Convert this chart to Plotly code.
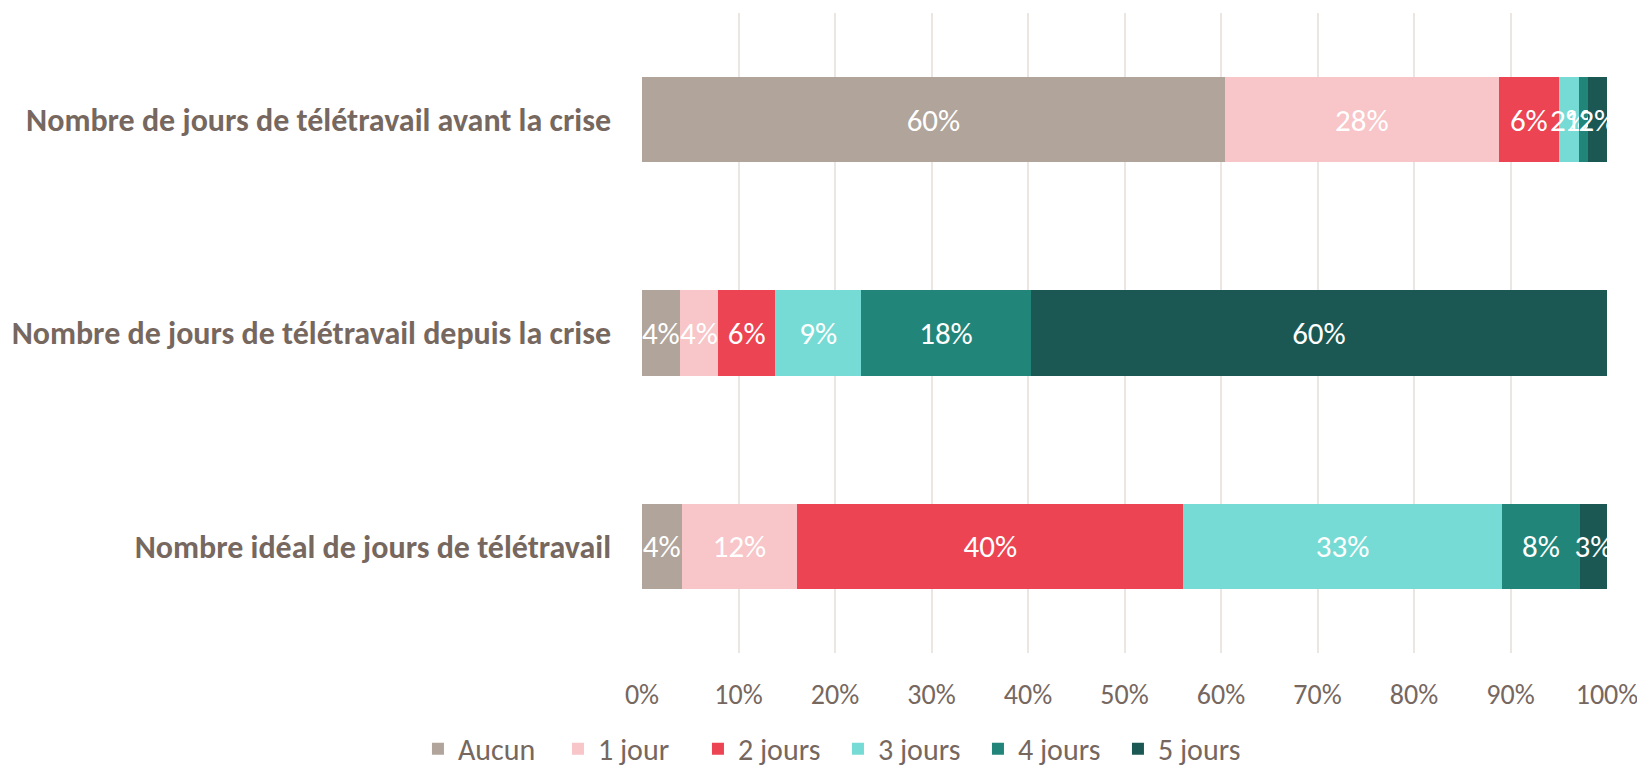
import plotly.graph_objects as go

categories = [
    "Nombre de jours de télétravail avant la crise",
    "Nombre de jours de télétravail depuis la crise",
    "Nombre idéal de jours de télétravail",
]
series_names = ["Aucun", "1 jour", "2 jours", "3 jours", "4 jours", "5 jours"]
aucun = [0.604, 0.039, 0.041]
jour1 = [0.284, 0.040, 0.120]
jours2 = [0.062, 0.059, 0.400]
jours3 = [0.021, 0.089, 0.330]
jours4 = [0.009, 0.176, 0.081]
jours5 = [0.020, 0.597, 0.028]
series_values = [aucun, jour1, jours2, jours3, jours4, jours5]
colors = ["#B0A49B", "#F8C5C8", "#EC4452", "#76DBD4", "#22857A", "#1B5853"]
tick_vals = [i / 10 for i in range(11)]

FONT = "Carlito, Calibri, Lato, sans-serif"
TXT = "#76675F"

fig = go.Figure()
for name, vals, col in zip(series_names, series_values, colors):
    fig.add_trace(go.Bar(
        y=categories, x=vals, name=name, orientation="h",
        marker=dict(color=col, line=dict(width=0)),
        texttemplate="%{x:.0%}", textposition="inside", textangle=0,
        insidetextanchor="middle", constraintext="none",
        textfont=dict(color="white", size=31, family=FONT),
        hoverinfo="x+name",
    ))

fig.update_layout(
    barmode="stack", bargap=0.6,
    width=1637, height=762,
    margin=dict(l=634, r=38, t=5, b=117, autoexpand=False),
    paper_bgcolor="white", plot_bgcolor="white",
    font=dict(family=FONT, color=TXT),
    legend=dict(orientation="h", xref="container", yref="container",
                x=0.507, xanchor="center", y=0.028, yanchor="middle",
                traceorder="normal", font=dict(size=30, color=TXT),
                itemwidth=30, entrywidthmode="pixels", entrywidth=95),
    xaxis=dict(range=[0, 1], tickvals=tick_vals, tickformat=".0%",
               showgrid=True, gridcolor="#ECE6E3", gridwidth=2,
               zeroline=False, showline=False, ticks="",
               ticklabelstandoff=22, automargin=False,
               tickfont=dict(size=28, color=TXT, family=FONT)),
    yaxis=dict(categoryorder="array", categoryarray=categories,
               autorange="reversed", showgrid=False, zeroline=False,
               showline=False, ticks="", ticklabelstandoff=30,
               automargin=False,
               tickfont=dict(size=32, color=TXT, family=FONT, weight="bold")),
)

fig.write_html("out.html")
